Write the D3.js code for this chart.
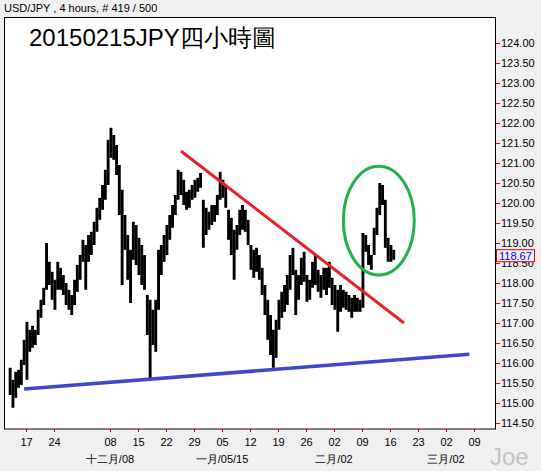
<!DOCTYPE html>
<html>
<head>
<meta charset="utf-8">
<script src="https://cdn.jsdelivr.net/npm/d3@7"></script>
<style>
body { margin: 0; background: #f0f0f0; }
text { font-family: "Liberation Sans", Arial, sans-serif; }
</style>
</head>
<body>
<script>
// chart size
var width = 541, height = 471;

// bars are 4 hour bars, 30 per trading week; sampled every 3 bars
var startBar = -17, barStep = 3;
var hi = [115.88,115.58,115.78,115.83,116.08,116.58,117.03,116.83,116.93,116.83,
	117.33,117.58,117.88,119.00,118.53,118.28,118.08,118.53,118.38,118.20,
	118.00,117.83,117.70,118.08,118.45,118.70,119.08,118.95,119.20,119.28,
	119.53,119.88,120.13,120.45,120.83,121.58,121.88,121.70,121.45,120.95,
	120.33,119.70,119.20,118.83,119.53,119.45,119.13,118.95,118.70,117.70,
	117.58,117.33,117.58,118.83,118.95,119.20,119.45,119.70,119.95,120.20,
	120.83,120.78,120.58,120.28,120.33,120.45,120.58,120.63,120.75,120.08,
	119.88,119.78,119.95,119.95,120.20,120.78,120.58,120.45,119.83,119.63,
	119.33,119.45,119.83,119.95,119.83,119.58,118.95,118.83,118.88,118.70,
	118.38,117.95,117.58,117.20,116.83,117.08,117.58,117.78,117.95,118.20,
	118.70,118.88,118.33,118.20,118.63,118.78,118.20,118.08,118.53,118.70,
	118.33,118.20,118.38,118.38,118.53,118.13,117.95,117.83,117.95,117.83,
	117.78,117.70,117.63,117.70,117.63,117.58,119.25,119.20,118.95,118.70,
	119.38,119.88,120.50,120.45,120.08,119.13,118.95,118.83];
var lo = [115.20,114.88,115.13,115.38,115.45,115.95,115.58,116.28,116.38,116.45,
	116.70,117.13,117.45,117.83,117.95,117.58,117.33,117.83,117.83,117.70,
	117.45,117.33,117.20,117.45,117.78,118.08,118.53,117.83,118.53,118.70,
	118.95,119.28,119.58,119.83,120.08,120.45,121.13,121.08,120.70,119.70,
	117.95,118.83,118.08,117.50,118.58,118.45,118.20,117.95,117.83,116.70,
	115.58,116.45,116.28,117.33,118.20,118.53,118.70,119.08,119.38,119.70,
	120.08,120.20,119.95,119.83,119.88,120.08,120.13,120.28,120.38,118.88,
	119.20,119.33,119.45,119.53,119.70,120.08,120.13,119.88,119.08,118.70,
	118.08,118.83,119.20,119.33,119.28,118.95,118.33,118.13,118.28,118.08,
	117.70,117.20,116.58,116.20,115.88,116.13,116.83,117.13,117.28,117.45,
	117.83,118.20,117.20,117.58,117.95,118.03,117.53,117.58,117.88,117.95,
	117.78,117.63,117.83,117.70,117.88,117.45,117.33,116.78,117.28,117.38,
	117.33,117.28,117.13,117.28,117.28,117.28,117.38,118.78,118.45,118.33,
	118.70,119.20,119.70,119.95,118.88,118.53,118.53,118.58];
var lastPrice = 118.67;

// axis ticks
var priceTicks = [114.5,115,115.5,116,116.5,117,117.5,118,118.5,119,
	119.5,120,120.5,121,121.5,122,122.5,123,123.5,124];
var weekTicks = [0,1,3,4,5,6,7,8,9,10,11,12,13,14,15,16];
var dayLabels = ['17','24','08','15','22','29','05','12','19','26','02','09','16','23','02','09'];
var monthWeeks = [3,7,11,15];
var monthLabels = ['十二月/08','一月/05/15','二月/02','三月/02'];

// trend lines [bar, price]
var redLine = [[166, 121.30], [405, 117.00]];
var blueLine = [[-2, 115.35], [475, 116.22]];
// marked region: centre [bar, price], radii in bars / price
var circleMark = {bar: 378, price: 119.56, rBar: 38, rPrice: 1.36};

function plot_it() {
	var svg = d3.select('body')
		.append('svg')
		.attr('width', width)
		.attr('height', height);

	var xScale = d3.scaleLinear().domain([0, 480]).range([26, 474]);
	var yScale = d3.scaleLinear().domain([114.5, 124]).range([423, 43]);

	svg.append('rect').attr('width', width).attr('height', height).attr('fill', '#f0f0f0');

	// plot frame
	svg.append('rect')
		.attr('x', 4.5).attr('y', 17.5)
		.attr('width', 491).attr('height', 411.5)
		.attr('fill', '#fff').attr('stroke', '#000').attr('stroke-width', 1);

	svg.append('text').text('USD/JPY , 4 hours, # 419 / 500')
		.attr('x', 4).attr('y', 12).attr('font-size', '11px').attr('fill', '#000');

	svg.append('text').text('20150215JPY四小時圖')
		.attr('x', 29).attr('y', 46).attr('font-size', '24px').attr('fill', '#000');

	// price bars
	svg.append('g').attr('id', 'bars')
		.selectAll('line')
		.data(hi)
		.enter()
		.append('line')
		.attr('x1', function(d, i){return xScale(startBar + i * barStep);})
		.attr('x2', function(d, i){return xScale(startBar + i * barStep);})
		.attr('y1', function(d){return yScale(d);})
		.attr('y2', function(d, i){return yScale(lo[i]);})
		.attr('stroke', '#000')
		.attr('stroke-width', 2.9);

	// trend lines
	var line = d3.line().x(function(d){return xScale(d[0]);}).y(function(d){return yScale(d[1]);});
	svg.append('path').attr('d', line(redLine))
		.attr('fill', 'none').attr('stroke', '#e8202a').attr('stroke-width', 3);
	svg.append('path').attr('d', line(blueLine))
		.attr('fill', 'none').attr('stroke', '#3f48cc').attr('stroke-width', 3.5);

	svg.append('ellipse')
		.attr('cx', xScale(circleMark.bar))
		.attr('cy', yScale(circleMark.price))
		.attr('rx', xScale(circleMark.rBar) - xScale(0))
		.attr('ry', yScale(0) - yScale(circleMark.rPrice))
		.attr('fill', 'none').attr('stroke', '#22b14c').attr('stroke-width', 3);

	// right price axis
	var yAxis = d3.axisRight(yScale)
		.tickValues(priceTicks)
		.tickFormat(d3.format('.2f'))
		.tickSize(4)
		.tickPadding(1);
	var gy = svg.append('g').attr('transform', 'translate(496,0)').call(yAxis);
	gy.select('.domain').remove();
	gy.selectAll('line').attr('stroke', '#e00000');
	gy.selectAll('text').attr('font-size', '11px').attr('font-family', '"Liberation Sans", Arial, sans-serif').attr('fill', '#000');

	// bottom date axis
	var xAxis = d3.axisBottom(xScale)
		.tickValues(weekTicks.map(function(w){return w * 30;}))
		.tickFormat(function(d, i){return dayLabels[i];})
		.tickSize(3)
		.tickPadding(6);
	var gx = svg.append('g').attr('transform', 'translate(0,429)').call(xAxis);
	gx.select('.domain').remove();
	gx.selectAll('line').attr('stroke', '#e00000');
	gx.selectAll('text').attr('font-size', '11px').attr('font-family', '"Liberation Sans", Arial, sans-serif').attr('fill', '#000');

	svg.append('g')
		.selectAll('text')
		.data(monthLabels)
		.enter()
		.append('text')
		.text(function(d){return d;})
		.attr('x', function(d, i){return xScale(monthWeeks[i] * 30);})
		.attr('y', 463)
		.attr('text-anchor', 'middle')
		.attr('font-size', '11px')
		.attr('fill', '#000');

	// last price marker
	var ly = yScale(lastPrice);
	svg.append('rect')
		.attr('x', 496.5).attr('y', ly - 6.5)
		.attr('width', 38).attr('height', 12)
		.attr('fill', '#f0f0f0').attr('stroke', '#e00000').attr('stroke-width', 1);
	svg.append('text').text(d3.format('.2f')(lastPrice))
		.attr('x', 499).attr('y', ly + 4)
		.attr('font-size', '11px').attr('fill', '#0000ff');

	svg.append('text').text('Joe')
		.attr('x', 490).attr('y', 465)
		.attr('font-size', '24px').attr('fill', '#c4c4c4');
}

plot_it();
</script>
</body>
</html>
